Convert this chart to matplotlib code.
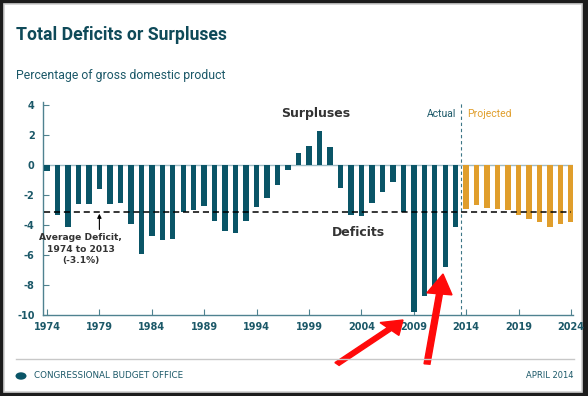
import matplotlib
matplotlib.use("Agg")
import matplotlib.pyplot as plt
from matplotlib.patches import Rectangle, Circle, FancyArrow

years_actual = list(range(1974, 2014))
values_actual = [-0.4, -3.3, -4.1, -2.6, -2.6, -1.6, -2.6, -2.5, -3.9, -5.9,
                 -4.7, -5.0, -4.9, -3.1, -3.0, -2.7, -3.7, -4.4, -4.5, -3.7,
                 -2.8, -2.2, -1.3, -0.3, 0.8, 1.3, 2.3, 1.2, -1.5, -3.3,
                 -3.4, -2.5, -1.8, -1.1, -3.1, -9.8, -8.7, -8.4, -6.8, -4.1]
years_proj = list(range(2014, 2025))
values_proj = [-2.9, -2.65, -2.85, -2.9, -3.0, -3.35, -3.6, -3.8, -4.1, -3.95, -3.8]
average_deficit = -3.1
x_ticks = list(range(1974, 2025, 5))
y_ticks = [4, 2, 0, -2, -4, -6, -8, -10]

TEAL = "#0a5567"
TEAL_TXT = "#1b5868"
ORANGE = "#e09e2c"
GREY_TXT = "#333333"
NARROW = ["Roboto", "DejaVu Sans"]

W, H = 588, 396
fig = plt.figure(figsize=(W / 100, H / 100), dpi=100)
fig.patch.set_facecolor("#1c1c1c")

def fx(px):
    return px / W

def fy(py):
    return 1 - py / H

# white card
fig.add_artist(Rectangle((fx(4), fy(392)), fx(582) - fx(4), fy(4) - fy(392),
                         transform=fig.transFigure, facecolor="white",
                         edgecolor="#d0d0d0", linewidth=1.2, zorder=0))

ax = fig.add_axes([fx(43), fy(315), fx(573) - fx(43), fy(102) - fy(315)])
ax.set_facecolor("none")
ax.set_xlim(1973.62, 2024.19)
ax.set_ylim(-10, 4.2)

ax.bar(years_actual, values_actual, width=0.52, color=TEAL, zorder=3)
ax.bar(years_proj, values_proj, width=0.52, color=ORANGE, zorder=3)

ax.axhline(0, color="#9fbcc5", linewidth=1.0, zorder=2)
ax.plot([1973.7, 2024.0], [average_deficit, average_deficit], color="black",
        linestyle=(0, (4, 2.5)), linewidth=1.1, zorder=4)
ax.axvline(2013.5, color="#3c7686", linestyle=(0, (3, 2.5)), linewidth=0.8, zorder=1)

for s in ["top", "right"]:
    ax.spines[s].set_visible(False)
for s in ["left", "bottom"]:
    ax.spines[s].set_color("#4f8290")
    ax.spines[s].set_linewidth(1.0)

ax.set_xticks(x_ticks)
ax.set_xticklabels([str(t) for t in x_ticks])
ax.set_yticks(y_ticks)
ax.set_yticklabels([str(t) for t in y_ticks])
ax.tick_params(axis="both", direction="in", length=4, width=0.8, color="#4f8290",
               labelsize=7, labelcolor=TEAL_TXT)
ax.tick_params(axis="x", pad=5)
ax.tick_params(axis="y", pad=6)
for lab in ax.get_xticklabels() + ax.get_yticklabels():
    lab.set_fontweight("bold")

ax.text(2013.1, 3.4, "Actual", color=TEAL_TXT, fontsize=7.5, ha="right", va="center",
        family=NARROW)
ax.text(2014.1, 3.4, "Projected", color=ORANGE, fontsize=7.5, ha="left", va="center",
        family=NARROW)
ax.text(1999.6, 3.45, "Surpluses", color=GREY_TXT, fontsize=9, fontweight="bold",
        ha="center", va="center")
ax.text(2003.7, -4.5, "Deficits", color=GREY_TXT, fontsize=9, fontweight="bold",
        ha="center", va="center")
ax.text(1977.2, -5.6, "Average Deficit,\n1974 to 2013\n(-3.1%)", color=GREY_TXT,
        fontsize=6.6, fontweight="bold", ha="center", va="center", linespacing=1.4)
ax.annotate("", xy=(1979, -3.25), xytext=(1979, -4.3),
            arrowprops=dict(arrowstyle="-|>", color="black", lw=0.8,
                            mutation_scale=6, shrinkA=0, shrinkB=0))

# title and subtitle
fig.text(fx(16), fy(35), "Total Deficits or Surpluses", color="#0f4a59", fontsize=12.7,
         fontweight="bold", ha="left", va="center", family=NARROW)
fig.text(fx(16), fy(75), "Percentage of gross domestic product", color=TEAL_TXT,
         fontsize=8.8, ha="left", va="center", family=NARROW)

# footer
fig.add_artist(plt.Line2D([fx(16), fx(574)], [fy(359), fy(359)],
                          transform=fig.transFigure, color="#c8c8c8", linewidth=1.0))
fig.add_artist(Circle((fx(21), fy(376)), 5.5 / W, transform=fig.transFigure,
                      facecolor=TEAL, edgecolor="none"))
fig.text(fx(34), fy(376), "CONGRESSIONAL BUDGET OFFICE", color=TEAL_TXT, fontsize=6.3,
         ha="left", va="center")
fig.text(fx(573), fy(376), "APRIL 2014", color=TEAL_TXT, fontsize=6.0,
         ha="right", va="center")

# red arrows
fig.add_artist(FancyArrow(fx(337), fy(364), fx(403) - fx(337), fy(320) - fy(364),
                          width=4 / H, head_width=18 / H, head_length=19 / W,
                          length_includes_head=True, color="#ff0a0a",
                          transform=fig.transFigure))
fig.add_artist(FancyArrow(fx(427), fy(364), fx(443) - fx(427), fy(274) - fy(364),
                          width=4 / H, head_width=17 / H, head_length=20 / H,
                          length_includes_head=True, color="#ff0a0a",
                          transform=fig.transFigure))

fig.savefig("out.png", dpi=100, facecolor=fig.get_facecolor())
